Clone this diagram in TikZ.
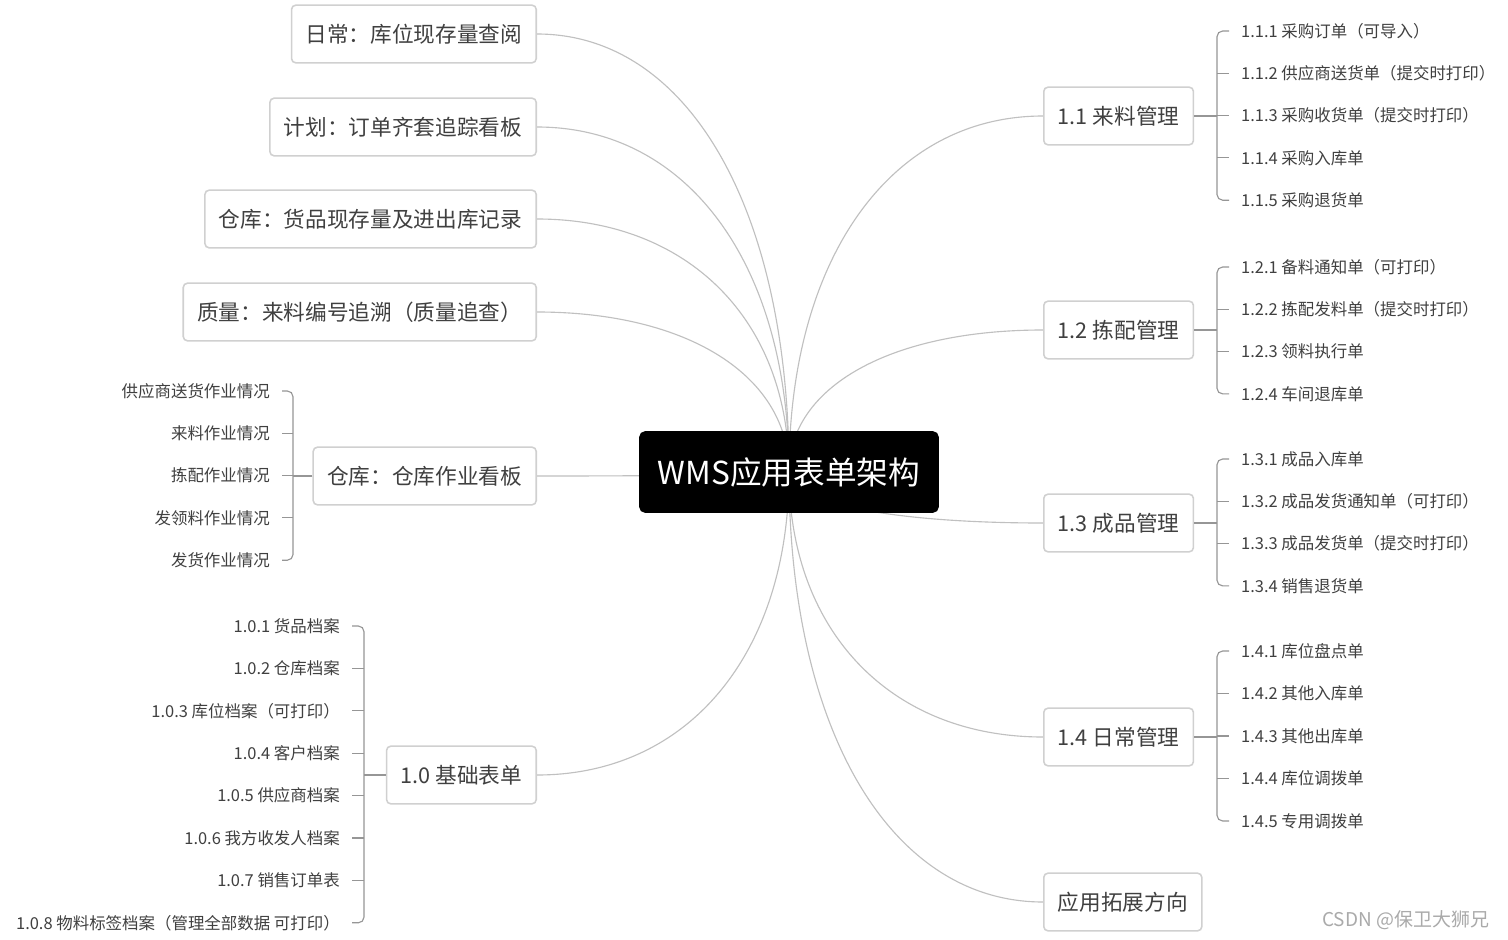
\documentclass[tikz,border=0pt]{standalone}
\usepackage{fontspec}
\setmainfont{Noto Sans CJK SC}
\usepackage{tikz}
\usetikzlibrary{positioning, calc, backgrounds}
\definecolor{textgray}{RGB}{64,64,64}
\definecolor{boxgray}{RGB}{208,208,208}
\definecolor{linegray}{RGB}{192,192,192}
\definecolor{spinegray}{RGB}{150,150,150}
\definecolor{markgray}{RGB}{170,170,170}

\begin{document}
\begin{tikzpicture}[
  x=0.025cm, y=-0.025cm,
  topic/.style={rectangle, rounded corners=3pt, draw=boxgray, line width=1.1pt,
                fill=white, minimum height=41pt, inner xsep=10pt, text=textgray,
                font=\fontsize{15.4}{18}\selectfont},
  leaf/.style={inner xsep=8.5pt, inner ysep=2pt, text=textgray,
               font=\fontsize{11.7}{14}\selectfont},
  branch/.style={draw=linegray, line width=0.8pt},
  spine/.style={draw=spinegray, line width=0.8pt, rounded corners=4pt}
]
\useasboundingbox (0,0) rectangle (1508,940);

% central topic
\node[rectangle, rounded corners=4pt, fill=black, text=white,
      minimum width=213pt, minimum height=58pt,
      font=\fontsize{22.5}{26}\selectfont] (root) at (789,472) {WMS应用表单架构};

% left topics
\node[topic, anchor=east] (q1) at (537,34)  {日常：库位现存量查阅};
\node[topic, anchor=east] (q2) at (537,127) {计划：订单齐套追踪看板};
\node[topic, anchor=east] (q3) at (537,219) {仓库：货品现存量及进出库记录};
\node[topic, anchor=east] (q4) at (537,312) {质量：来料编号追溯（质量追查）};
\node[topic, anchor=east] (q5) at (537,476) {仓库：仓库作业看板};
\node[topic, anchor=east] (m0) at (537,775) {1.0 基础表单};

% right topics
\node[topic, anchor=west] (m1) at (1043,116) {1.1 来料管理};
\node[topic, anchor=west] (m2) at (1043,330) {1.2 拣配管理};
\node[topic, anchor=west] (m3) at (1043,523) {1.3 成品管理};
\node[topic, anchor=west] (m4) at (1043,737) {1.4 日常管理};
\node[topic, anchor=west] (m5) at (1043,902) {应用拓展方向};

% curved branches behind the root
\begin{scope}[on background layer]
  \fill[white] (0,0) rectangle (1508,940);
  \foreach \n in {q1,q2,q3,q4,q5,m0}
    \draw[branch] (root.center) .. controls ($(root.center)!0.6!(root.center |- \n.east)$)
      and ($(\n.east)!0.6!(root.center |- \n.east)$) .. (\n.east);
  \foreach \n in {m1,m2,m3,m4,m5}
    \draw[branch] (root.center) .. controls ($(root.center)!0.6!(root.center |- \n.west)$)
      and ($(\n.west)!0.6!(root.center |- \n.west)$) .. (\n.west);
\end{scope}

% 1.1
\coordinate (s1) at (1217,116);
\foreach \t [count=\i] in {1.1.1 采购订单（可导入）,
    1.1.2 供应商送货单（提交时打印）, 1.1.3 采购收货单（提交时打印）,
    1.1.4 采购入库单, 1.1.5 采购退货单}
  \node[leaf, anchor=west] (a1\i) at (1229,{31+(\i-1)*42.3}) {\t};
\draw[spine] (a11.west) -| (s1 |- a15.west) -- (a15.west);
\foreach \i in {2,3,4} \draw[spine] (s1 |- a1\i.west) -- (a1\i.west);
\draw[spine] (m1.east) -- (s1);

% 1.2
\coordinate (s2) at (1217,330);
\foreach \t [count=\i] in {1.2.1 备料通知单（可打印）,
    1.2.2 拣配发料单（提交时打印）, 1.2.3 领料执行单, 1.2.4 车间退库单}
  \node[leaf, anchor=west] (a2\i) at (1229,{267+(\i-1)*42.3}) {\t};
\draw[spine] (a21.west) -| (s2 |- a24.west) -- (a24.west);
\foreach \i in {2,3} \draw[spine] (s2 |- a2\i.west) -- (a2\i.west);
\draw[spine] (m2.east) -- (s2);

% 1.3
\coordinate (s3) at (1217,523);
\foreach \t [count=\i] in {1.3.1 成品入库单,
    1.3.2 成品发货通知单（可打印）, 1.3.3 成品发货单（提交时打印）, 1.3.4 销售退货单}
  \node[leaf, anchor=west] (a3\i) at (1229,{459+(\i-1)*42.3}) {\t};
\draw[spine] (a31.west) -| (s3 |- a34.west) -- (a34.west);
\foreach \i in {2,3} \draw[spine] (s3 |- a3\i.west) -- (a3\i.west);
\draw[spine] (m3.east) -- (s3);

% 1.4
\coordinate (s4) at (1217,737);
\foreach \t [count=\i] in {1.4.1 库位盘点单, 1.4.2 其他入库单,
    1.4.3 其他出库单, 1.4.4 库位调拨单, 1.4.5 专用调拨单}
  \node[leaf, anchor=west] (a4\i) at (1229,{651+(\i-1)*42.5}) {\t};
\draw[spine] (a41.west) -| (s4 |- a45.west) -- (a45.west);
\foreach \i in {2,3,4} \draw[spine] (s4 |- a4\i.west) -- (a4\i.west);
\draw[spine] (m4.east) -- (s4);

% warehouse board
\coordinate (s5) at (293,476);
\foreach \t [count=\i] in {供应商送货作业情况, 来料作业情况,
    拣配作业情况, 发领料作业情况, 发货作业情况}
  \node[leaf, anchor=east] (b\i) at (282,{391+(\i-1)*42.3}) {\t};
\draw[spine] (b1.east) -| (s5 |- b5.east) -- (b5.east);
\foreach \i in {2,3,4} \draw[spine] (s5 |- b\i.east) -- (b\i.east);
\draw[spine] (q5.west) -- (s5);

% 1.0
\coordinate (s0) at (364,775);
\foreach \t [count=\i] in {1.0.1 货品档案, 1.0.2 仓库档案,
    1.0.3 库位档案（可打印）, 1.0.4 客户档案, 1.0.5 供应商档案,
    1.0.6 我方收发人档案, 1.0.7 销售订单表,
    1.0.8 物料标签档案（管理全部数据 可打印）}
  \node[leaf, anchor=east] (c\i) at (352,{626+(\i-1)*42.4}) {\t};
\draw[spine] (c1.east) -| (s0 |- c8.east) -- (c8.east);
\foreach \i in {2,...,7} \draw[spine] (s0 |- c\i.east) -- (c\i.east);
\draw[spine] (m0.west) -- (s0);

\node[anchor=east, text=markgray, font=\fontsize{13.5}{16}\selectfont]
  (mark) at (1494,920) {CSDN @保卫大狮兄};
\end{tikzpicture}
\end{document}
